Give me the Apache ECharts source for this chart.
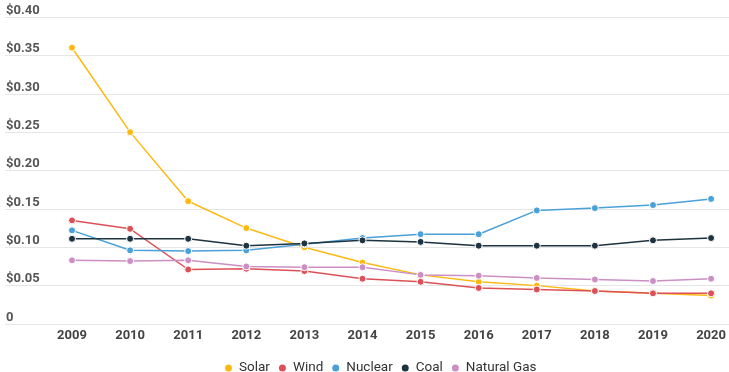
<!DOCTYPE html>
<html>
<head>
<meta charset="utf-8">
<script src="https://cdn.jsdelivr.net/npm/echarts@6/dist/echarts.min.js"></script>
<style>
html,body{margin:0;padding:0;background:#fff;}
#chart{width:729px;height:372px;}
</style>
</head>
<body>
<div id="chart"></div>
<script>
const years = ['2009','2010','2011','2012','2013','2014','2015','2016','2017','2018','2019','2020'];
const solar = [0.36, 0.25, 0.16, 0.125, 0.10, 0.080, 0.064, 0.055, 0.050, 0.043, 0.040, 0.037];
const wind = [0.135, 0.124, 0.071, 0.072, 0.069, 0.059, 0.055, 0.047, 0.045, 0.043, 0.040, 0.040];
const nuclear = [0.122, 0.096, 0.095, 0.096, 0.104, 0.112, 0.117, 0.117, 0.148, 0.151, 0.155, 0.163];
const coal = [0.111, 0.111, 0.111, 0.102, 0.105, 0.109, 0.107, 0.102, 0.102, 0.102, 0.109, 0.112];
const naturalGas = [0.083, 0.082, 0.083, 0.075, 0.074, 0.074, 0.064, 0.063, 0.060, 0.058, 0.056, 0.059];
const seriesNames = ['Solar', 'Wind', 'Nuclear', 'Coal', 'Natural Gas'];
const seriesColors = ['#fdb913', '#dc5158', '#4aa0d8', '#1e3340', '#cc8fc4'];
const yTicks = {min: 0, max: 0.4, interval: 0.05};

const chart = echarts.init(document.getElementById('chart'), null, {renderer: 'canvas'});
const allData = [solar, wind, nuclear, coal, naturalGas];
const FONT = 'Roboto, "Noto Sans", sans-serif';

function fmt(v) {
  if (v === 0) return '0';
  return '$' + v.toFixed(2);
}

chart.setOption({
  animation: false,
  backgroundColor: '#fff',
  color: seriesColors,
  grid: [
    {left: 5, right: 0, top: 17, bottom: 48},
    {left: 72, right: 17, top: 17, bottom: 48}
  ],
  xAxis: [
    {gridIndex: 0, type: 'category', data: years, show: false},
    {
      gridIndex: 1, type: 'category', data: years, boundaryGap: false,
      axisLine: {show: false}, axisTick: {show: false},
      axisLabel: {margin: 5, fontFamily: FONT, fontWeight: 'bold', fontSize: 13, color: '#444'}
    }
  ],
  yAxis: [
    {
      gridIndex: 0, type: 'value', min: yTicks.min, max: yTicks.max, interval: yTicks.interval,
      axisLine: {show: false}, axisTick: {show: false},
      splitLine: {lineStyle: {color: '#e6e6e6', width: 1}},
      axisLabel: {
        inside: true, margin: 1, verticalAlign: 'bottom', align: 'left',
        padding: [0, 0, 0, 0],
        fontFamily: FONT, fontWeight: 'bold', fontSize: 13, color: '#555',
        formatter: fmt
      }
    },
    {
      gridIndex: 1, type: 'value', min: yTicks.min, max: yTicks.max, interval: yTicks.interval,
      show: false, splitLine: {show: false}
    }
  ],
  legend: {
    top: 356, left: 218, icon: 'circle', itemWidth: 9, itemHeight: 9, itemGap: 7,
    textStyle: {fontFamily: FONT, fontSize: 13.5, color: '#333', padding: [0, 0, 0, 1]},
    data: seriesNames
  },
  series: seriesNames.map((name, i) => ({
    name: name,
    type: 'line',
    xAxisIndex: 1,
    yAxisIndex: 1,
    data: allData[i],
    symbol: 'circle',
    symbolSize: 7,
    showSymbol: true,
    lineStyle: {width: 1.5, color: seriesColors[i]},
    itemStyle: {color: seriesColors[i], borderColor: '#fff', borderWidth: 1}
  }))
});
</script>
</body>
</html>
